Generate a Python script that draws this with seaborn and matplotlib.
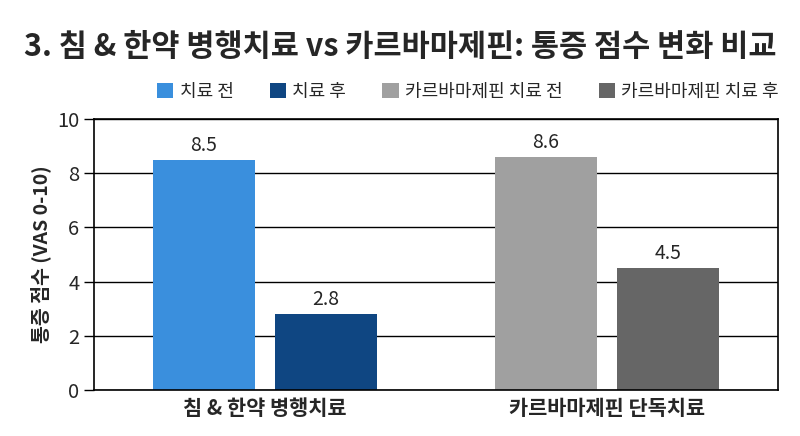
import numpy as np
import pandas as pd
import matplotlib
matplotlib.use("Agg")
import matplotlib.pyplot as plt
import seaborn as sns
from matplotlib.patches import Patch

groups = ["침 & 한약 병행치료", "카르바마제핀 단독치료"]
before = [8.5, 8.6]
after = [2.8, 4.5]
legend_labels = ["치료 전", "치료 후", "카르바마제핀 치료 전", "카르바마제핀 치료 후"]
colors = ["#3A8FDD", "#0F4682", "#A0A0A0", "#666666"]

df = pd.DataFrame({
    "group": groups * 2,
    "time": ["전"] * 2 + ["후"] * 2,
    "score": before + after,
})

sns.set_theme(style="white")
plt.rcParams['font.family'] = ['Noto Sans CJK KR', 'DejaVu Sans']

fig = plt.figure(figsize=(8, 4.36), dpi=100)
ax = fig.add_axes([0.1175, 0.1055, 0.855, 0.6215])

sns.barplot(data=df, x="group", y="score", hue="time", width=0.714, gap=0.164,
            palette=["#cccccc", "#cccccc"], legend=False, ax=ax, saturation=1)

# recolor: containers[0] = before, containers[1] = after
for hi, cont in enumerate(ax.containers):
    for gi, bar in enumerate(cont):
        bar.set_facecolor(colors[gi * 2 + hi])
        bar.set_edgecolor("none")
    ax.bar_label(cont, fmt="%.1f", padding=3, fontsize=14)

ax.set_ylim(0, 10)
ax.set_xlim(-0.5, 1.5)
ax.set_yticks([0, 2, 4, 6, 8, 10])
ax.yaxis.grid(True, color="black", linewidth=1)
ax.set_axisbelow(True)
for s in ax.spines.values():
    s.set_visible(True)
    s.set_color("black")
    s.set_linewidth(1.2)
ax.tick_params(axis="y", which="major", left=True, length=7, width=1, labelsize=14.5, color="black")
ax.tick_params(axis="x", length=0, labelsize=15, pad=6)
for lab in ax.get_xticklabels():
    lab.set_fontweight("bold")
ax.set_xlabel("")
ax.set_ylabel("통증 점수 (VAS 0-10)", fontsize=14, fontweight="bold", labelpad=4)

fig.suptitle("3. 침 & 한약 병행치료 vs 카르바마제핀: 통증 점수 변화 비교",
             fontsize=22, fontweight="black", y=0.93)

handles = [Patch(facecolor=c, edgecolor="none") for c in colors]
fig.legend(handles, legend_labels, loc="center", bbox_to_anchor=(0.585, 0.79),
           ncol=4, frameon=False, prop={"size": 13},
           handlelength=0.9, handleheight=0.9, columnspacing=2.0, handletextpad=0.35)

fig.savefig("out.png", dpi=100, facecolor="white")
